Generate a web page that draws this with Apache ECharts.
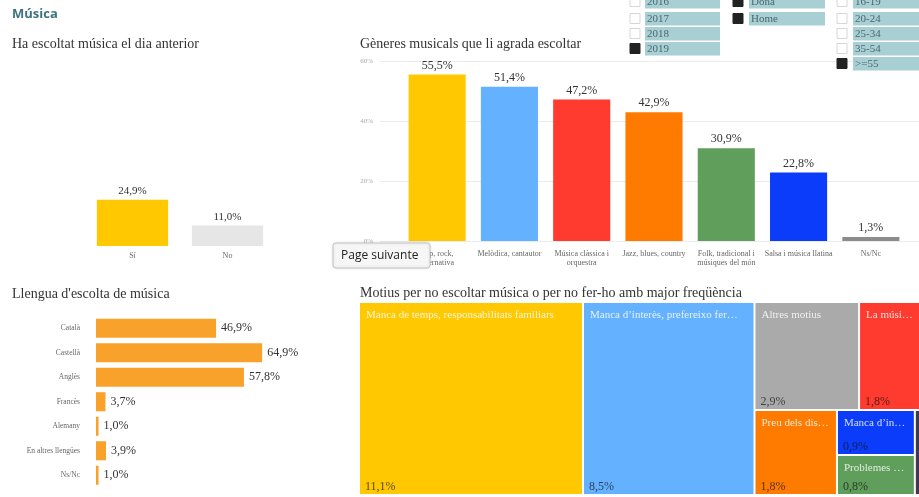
<!DOCTYPE html>
<html>
<head>
<meta charset="utf-8">
<script src="https://cdn.jsdelivr.net/npm/echarts@6/dist/echarts.min.js"></script>
<style>
html,body{margin:0;padding:0;background:#fff;}
#chart{width:919px;height:497px;}
</style>
</head>
<body>
<div id="chart"></div>
<script>
// ---- data ----
const listenedCats = ['Sí', 'No'];
const listenedValues = [24.9, 11.0];
const listenedColors = ['#ffc800', '#e6e6e6'];

const genreCats = ['Pop, rock,\nalternativa', 'Melòdica, cantautor', 'Música clàssica i\norquestra', 'Jazz, blues, country', 'Folk, tradicional i\nmúsiques del món', 'Salsa i música llatina', 'Ns/Nc'];
const genreValues = [55.5, 51.4, 47.2, 42.9, 30.9, 22.8, 1.3];
const genreColors = ['#ffc800', '#64b2ff', '#ff3a2e', '#ff7b00', '#5f9e5b', '#0a3cfa', '#8c8c8c'];
const genreTicks = [0, 20, 40, 60];

const langCats = ['Català', 'Castellà', 'Anglès', 'Francès', 'Alemany', 'En altres llengües', 'Ns/Nc'];
const langValues = [46.9, 64.9, 57.8, 3.7, 1.0, 3.9, 1.0];

const reasonNames = ['Manca de temps, responsabilitats familiars', 'Manca d’interès, prefereixo fer altres coses', 'Altres motius', 'Preu dels discos i concerts', 'La música no m’agrada', 'Manca d’informació', 'Problemes de salut', 'Ns/Nc'];
const reasonValues = [11.1, 8.5, 2.9, 1.8, 1.8, 0.9, 0.8, 0.2];
const reasonColors = ['#ffc800', '#64b2ff', '#aaaaaa', '#ff7b00', '#ff3a2e', '#0a3cfa', '#5f9e5b', '#3f3a52'];

const years = ['2016', '2017', '2018', '2019'];
const yearsChecked = [false, false, false, true];
const sexes = ['Dona', 'Home'];
const sexesChecked = [true, true];
const ages = ['16-19', '20-24', '25-34', '35-54', '>=55'];
const agesChecked = [false, false, false, false, true];

// ---- helpers ----
const SERIF = 'Liberation Serif';
const fmt = v => v.toFixed(1).replace('.', ',') + '%';

function filterList(items, checked, boxX, bgX, bgW) {
  const els = [];
  items.forEach((t, i) => {
    const top = i === 0 ? -5 : -3 + 15 * i;
    els.push({type: 'rect', shape: {x: boxX, y: top + 1.5, width: 10, height: 10},
      style: {fill: checked[i] ? '#222' : '#fff', stroke: checked[i] ? '#222' : '#d6d6d6', lineWidth: 1}, z: 50});
    els.push({type: 'rect', shape: {x: bgX, y: top, width: bgW, height: 13.5},
      style: {fill: '#a8cfd3'}, z: 50});
    els.push({type: 'text', x: bgX + 2, y: top + 7,
      style: {text: t, fill: '#4b6870', font: '11px "' + SERIF + '"', verticalAlign: 'middle'}, z: 51});
  });
  return els;
}

const graphics = []
  .concat(filterList(years, yearsChecked, 630, 645, 75))
  .concat(filterList(sexes, sexesChecked, 733, 749, 76))
  .concat(filterList(ages, agesChecked, 837, 853, 70))
  .concat([
    {type: 'rect', shape: {x: 333, y: 243, width: 97, height: 25, r: 3},
      style: {fill: '#f6f6f6', stroke: '#c4c4c4', lineWidth: 1, shadowBlur: 3, shadowColor: 'rgba(0,0,0,0.12)'}, z: 100},
    {type: 'text', x: 341, y: 256,
      style: {text: 'Page suivante', fill: '#222', font: '12px "Open Sans"', verticalAlign: 'middle'}, z: 101}
  ]);

const titleStyle = {fontFamily: SERIF, fontSize: 14, fontWeight: 'normal', color: '#333'};

const chart = echarts.init(document.getElementById('chart'), null, {renderer: 'canvas'});
const option = {
  animation: false,
  title: [
    {text: 'Música', left: 7, top: 3, textStyle: {fontFamily: 'Open Sans', fontSize: 13, fontWeight: 'bold', color: '#3e7383'}},
    {text: 'Ha escoltat música el dia anterior', left: 7, top: 32, textStyle: titleStyle},
    {text: 'Gèneres musicals que li agrada escoltar', left: 355, top: 32, textStyle: titleStyle},
    {text: 'Llengua d\'escolta de música', left: 7, top: 282, textStyle: titleStyle},
    {text: 'Motius per no escoltar música o per no fer-ho amb major freqüència', left: 355, top: 281, textStyle: titleStyle}
  ],
  grid: [
    {left: 85, top: 60, width: 190, height: 186},
    {left: 380, top: 61, right: 0, height: 180},
    {left: 401, top: 61, width: 506, height: 180},
    {left: 96, top: 316, width: 256, height: 171.5}
  ],
  xAxis: [
    {gridIndex: 0, type: 'category', data: listenedCats, axisLine: {show: false}, axisTick: {show: false},
      axisLabel: {fontFamily: SERIF, fontSize: 8, color: '#666', margin: 6}},
    {gridIndex: 1, type: 'value', show: false, min: 0, max: 1},
    {gridIndex: 2, type: 'category', data: genreCats, axisLine: {show: false}, axisTick: {show: false},
      axisLabel: {fontFamily: SERIF, fontSize: 8, lineHeight: 9, color: '#666', margin: 8, interval: 0}},
    {gridIndex: 3, type: 'value', show: false, min: 0, max: 100}
  ],
  yAxis: [
    {gridIndex: 0, type: 'value', show: false, min: 0, max: 100},
    {gridIndex: 1, type: 'value', min: genreTicks[0], max: genreTicks[genreTicks.length - 1], interval: genreTicks[1] - genreTicks[0],
      axisLine: {show: false}, axisTick: {show: false},
      axisLabel: {formatter: '{value}%', fontFamily: SERIF, fontSize: 7, color: '#aaa', margin: 7},
      splitLine: {lineStyle: {color: '#ececec', width: 1}}},
    {gridIndex: 2, type: 'value', show: false, min: 0, max: 60},
    {gridIndex: 3, type: 'category', data: langCats, inverse: true, axisLine: {show: false}, axisTick: {show: false},
      axisLabel: {fontFamily: SERIF, fontSize: 7.5, color: '#666', margin: 16}}
  ],
  series: [
    {type: 'bar', xAxisIndex: 0, yAxisIndex: 0, barCategoryGap: '25%', silent: true,
      data: listenedValues.map((v, i) => ({value: v, itemStyle: {color: listenedColors[i]}})),
      label: {show: true, position: 'top', distance: 3, formatter: p => fmt(p.value), fontFamily: SERIF, fontSize: 11, color: '#333'}},
    {type: 'bar', xAxisIndex: 2, yAxisIndex: 2, barCategoryGap: '21%', silent: true,
      data: genreValues.map((v, i) => ({value: v, itemStyle: {color: genreColors[i]}})),
      label: {show: true, position: 'top', distance: 3, formatter: p => fmt(p.value), fontFamily: SERIF, fontSize: 12, color: '#333'}},
    {type: 'bar', xAxisIndex: 3, yAxisIndex: 3, barCategoryGap: '22%', silent: true,
      data: langValues, itemStyle: {color: '#f9a22b'},
      label: {show: true, position: 'right', distance: 5, formatter: p => fmt(p.value), fontFamily: SERIF, fontSize: 12, color: '#333'}},
    {type: 'treemap', left: 360, top: 303, width: 563, height: 191, roam: false, nodeClick: false, silent: true,
      breadcrumb: {show: false}, sort: 'desc',
      levels: [{itemStyle: {borderWidth: 0, gapWidth: 2, borderColor: '#fff'}}],
      itemStyle: {borderWidth: 0, gapWidth: 0},
      label: {show: true, position: 'insideTopLeft', distance: 4, offset: [-3, -2], formatter: '{b}', fontFamily: SERIF, fontSize: 11,
        color: 'rgba(255,255,255,0.82)', overflow: 'truncate', ellipsis: '…'},
      emphasis: {disabled: true},
      data: reasonNames.map((n, i) => ({name: n, value: reasonValues[i], itemStyle: {color: reasonColors[i]}}))},
    {type: 'treemap', left: 360, top: 303, width: 563, height: 191, roam: false, nodeClick: false, silent: true,
      breadcrumb: {show: false}, sort: 'desc',
      levels: [{itemStyle: {borderWidth: 0, gapWidth: 2, borderColor: '#fff'}}],
      itemStyle: {borderWidth: 0, gapWidth: 0},
      label: {show: true, position: 'insideBottomLeft', distance: 3, offset: [-3, 7], formatter: p => (p.value >= 0.5 ? fmt(p.value) : ''),
        fontFamily: SERIF, fontSize: 12, color: 'rgba(20,20,20,0.72)'},
      emphasis: {disabled: true},
      data: reasonNames.map((n, i) => ({name: n, value: reasonValues[i], itemStyle: {color: 'rgba(0,0,0,0)'}}))}
  ],
  graphic: graphics
};
chart.setOption(option);
</script>
</body>
</html>
